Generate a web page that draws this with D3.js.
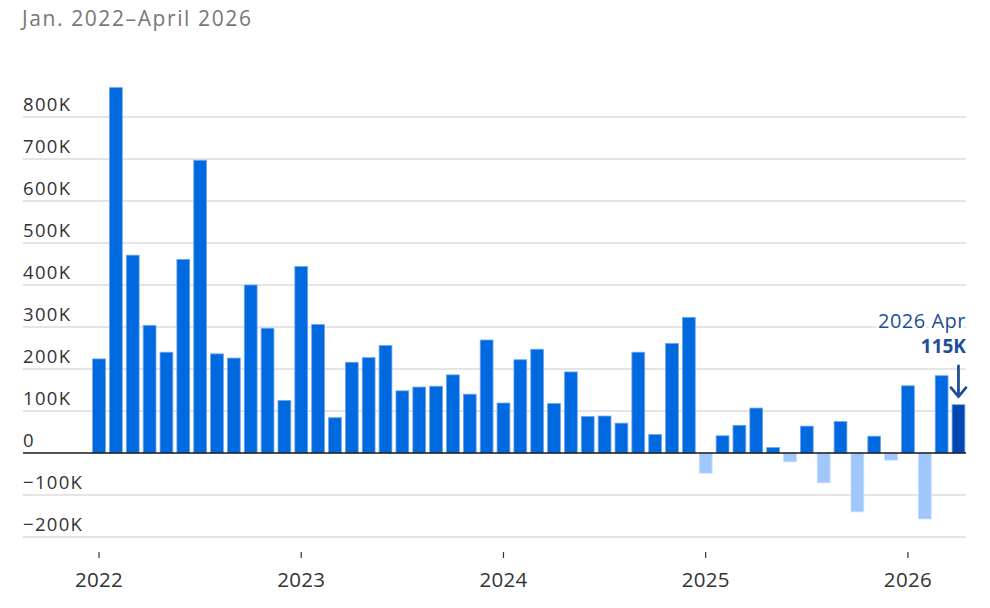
<!DOCTYPE html>
<html>
<head>
<meta charset="utf-8">
<script src="https://cdn.jsdelivr.net/npm/d3@7.9.0/dist/d3.min.js"></script>
<style>
  html, body { margin: 0; padding: 0; background: #fff; }
  svg { display: block; font-family: "Open Sans", Lato, sans-serif; }
</style>
</head>
<body>
<svg id="chart" width="990" height="608"></svg>
<script>
// ----- Data -----
const months = [
  "2022-01","2022-02","2022-03","2022-04","2022-05","2022-06","2022-07","2022-08","2022-09","2022-10","2022-11","2022-12",
  "2023-01","2023-02","2023-03","2023-04","2023-05","2023-06","2023-07","2023-08","2023-09","2023-10","2023-11","2023-12",
  "2024-01","2024-02","2024-03","2024-04","2024-05","2024-06","2024-07","2024-08","2024-09","2024-10","2024-11","2024-12",
  "2025-01","2025-02","2025-03","2025-04","2025-05","2025-06","2025-07","2025-08","2025-09","2025-10","2025-11","2025-12",
  "2026-01","2026-02","2026-03","2026-04"
];
const jobs = [
  224000, 870000, 471000, 304000, 240000, 461000, 697000, 236000, 226000, 400000, 297000, 125000,
  444000, 306000, 84000, 216000, 227000, 256000, 148000, 157000, 159000, 186000, 140000, 269000,
  119000, 222000, 247000, 118000, 193000, 87000, 88000, 71000, 240000, 44000, 261000, 323000,
  -48000, 41000, 66000, 107000, 13000, -21000, 64000, -71000, 75000, -140000, 40000, -17000,
  160000, -157000, 184000, 115000
];
const yTicks = [-200000, -100000, 0, 100000, 200000, 300000, 400000, 500000, 600000, 700000, 800000];
const yearTicks = ["2022-01", "2023-01", "2024-01", "2025-01", "2026-01"];
const title = "Jan. 2022\u2013April 2026";
const callout = { month: "2026-04", label: "2026 Apr", value: "115K" };

const data = months.map((m, i) => ({ month: m, value: jobs[i] }));

// ----- Layout -----
const svg = d3.select("#chart");
const left = 23, right = 966;

const x = d3.scaleBand()
  .domain(months)
  .range([90.6, 966.9])
  .paddingInner(0.24)
  .paddingOuter(0.12);

const y = d3.scaleLinear()
  .domain([-200000, 800000])
  .range([537, 117]);

const fmt = v => v === 0 ? "0" : (v < 0 ? "\u2212" : "") + Math.abs(v / 1000) + "K";

// title
svg.append("text")
  .attr("x", 22).attr("y", 26)
  .attr("fill", "#777")
  .attr("font-size", 21)
  .attr("letter-spacing", 1.6)
  .text(title);

// gridlines + y labels
const grid = svg.append("g");
grid.selectAll("line")
  .data(yTicks.filter(d => d !== 0))
  .join("line")
  .attr("x1", left).attr("x2", right)
  .attr("y1", d => y(d)).attr("y2", d => y(d))
  .attr("stroke", "#dcdcdc")
  .attr("stroke-width", 1.5);

grid.selectAll("text")
  .data(yTicks)
  .join("text")
  .attr("x", left)
  .attr("y", d => y(d) - 6.5)
  .attr("fill", "#333")
  .attr("font-size", 18.5)
  .attr("letter-spacing", 1.3)
  .text(fmt);

// bars
svg.append("g")
  .selectAll("rect")
  .data(data)
  .join("rect")
  .attr("x", d => x(d.month))
  .attr("width", x.bandwidth())
  .attr("y", d => y(Math.max(0, d.value)))
  .attr("height", d => Math.abs(y(d.value) - y(0)))
  .attr("fill", d => d.month === callout.month ? "#0047b3" : (d.value < 0 ? "#9fc7fb" : "#0069e0"))
  .attr("stroke", d => d.value < 0 ? "#c4dcfc" : "#6fa6ee")
  .attr("stroke-width", 0.8);

// zero line
svg.append("line")
  .attr("x1", left).attr("x2", right)
  .attr("y1", y(0)).attr("y2", y(0))
  .attr("stroke", "#1a1a1a")
  .attr("stroke-width", 1.6);

// x axis year ticks
const xc = m => x(m) + x.bandwidth() / 2;
const xa = svg.append("g");
xa.selectAll("line")
  .data(yearTicks)
  .join("line")
  .attr("x1", xc).attr("x2", xc)
  .attr("y1", 552).attr("y2", 558)
  .attr("stroke", "#333")
  .attr("stroke-width", 1.2);
xa.selectAll("text")
  .data(yearTicks)
  .join("text")
  .attr("x", xc)
  .attr("y", 587)
  .attr("text-anchor", "middle")
  .attr("fill", "#333")
  .attr("font-size", 20.5)
  .attr("letter-spacing", 0.3)
  .text(d => d.slice(0, 4));

// callout on last bar
const cx = xc(callout.month);
const cv = jobs[months.indexOf(callout.month)];
const ann = svg.append("g").attr("fill", "#1d4f96");
ann.append("text")
  .attr("x", right).attr("y", 328)
  .attr("text-anchor", "end")
  .attr("font-size", 20)
  .attr("letter-spacing", 0.5)
  .attr("stroke", "#fff").attr("stroke-width", 6).attr("paint-order", "stroke")
  .text(callout.label);
ann.append("text")
  .attr("x", right).attr("y", 352.5)
  .attr("text-anchor", "end")
  .attr("font-size", 19)
  .attr("font-weight", "bold")
  .attr("stroke", "#fff").attr("stroke-width", 6).attr("paint-order", "stroke")
  .text(callout.value);
const tipY = y(cv) - 8;
ann.append("path")
  .attr("d", `M${cx},366 L${cx},${tipY} M${cx - 7.5},${tipY - 9} L${cx},${tipY} L${cx + 7.5},${tipY - 9}`)
  .attr("fill", "none")
  .attr("stroke", "#1d4f96")
  .attr("stroke-width", 2.8)
  .attr("stroke-linecap", "round")
  .attr("stroke-linejoin", "round");
</script>
</body>
</html>
